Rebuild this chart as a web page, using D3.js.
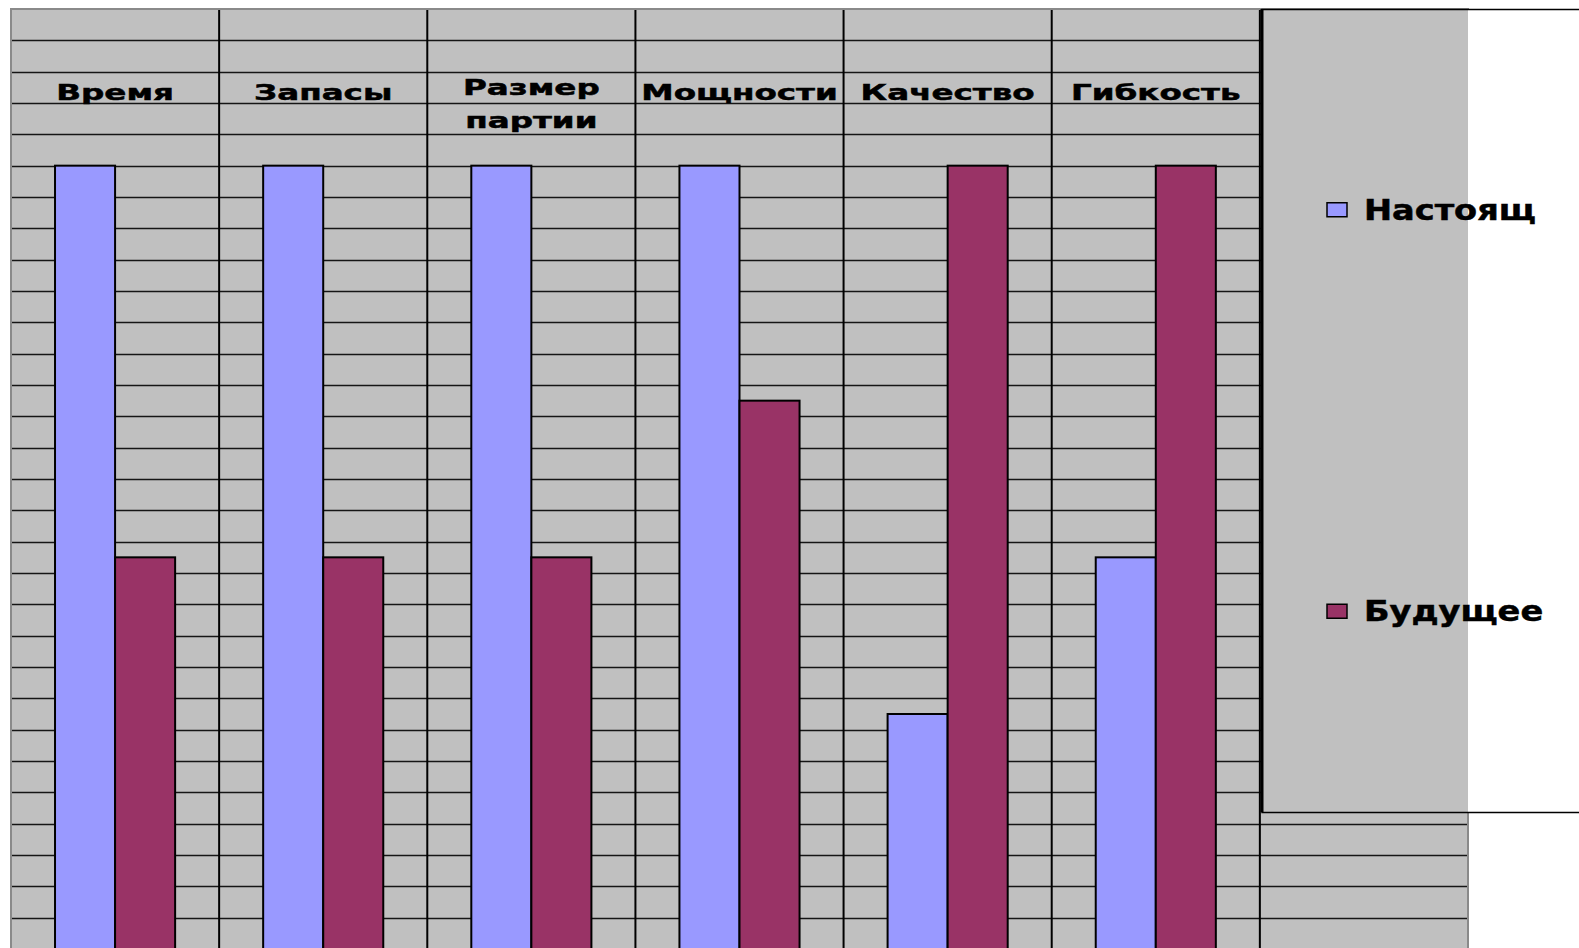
<!DOCTYPE html>
<html lang="ru">
<head>
  <meta charset="UTF-8">
  <title>Настоящее и будущее</title>
  <script src="https://d3js.org/d3.v7.min.js"></script>
  <style>
    body {
      margin: 0;
      background: #fff;
      overflow: hidden;
    }
    text {
      font-family: "DejaVu Sans", Verdana, sans-serif;
      font-weight: bold;
      fill: #000;
      stroke: #000;
      stroke-width: 0.5px;
    }
  </style>
</head>
<body>
  <div id="chart"></div>
  <script>
    // categories (the last one is empty, it sits under the legend)
    const categories = ["Время", "Запасы", "Размер партии", "Мощности", "Качество", "Гибкость", ""];
    const seriesNames = ["Настоящ", "Будущее"];
    const present = [10, 10, 10, 10, 3, 5, null];
    const future = [5, 5, 5, 7, 10, 10, null];
    const axisMax = 12;
    const gridStep = 0.4;

    const colors = ["#9999ff", "#993366"];

    const width = 1579;
    const height = 948;
    const plot = { left: 11, top: 9, right: 1468, bottom: 949 };
    const legendBox = { left: 1262, top: 9, right: 1590, bottom: 812 };

    const svg = d3.select("#chart")
      .append("svg")
      .attr("width", width)
      .attr("height", height);

    const x0 = d3.scaleBand()
      .domain(categories.map((c, i) => i))
      .range([plot.left, plot.right])
      .paddingInner(0)
      .paddingOuter(0);

    const x1 = d3.scaleBand()
      .domain(seriesNames)
      .range([0, x0.bandwidth()])
      .paddingInner(0)
      .paddingOuter(0.733);

    const y = d3.scaleLinear()
      .domain([0, axisMax])
      .range([plot.bottom, plot.top]);

    // plot area
    svg.append("rect")
      .attr("x", plot.left)
      .attr("y", plot.top)
      .attr("width", plot.right - plot.left)
      .attr("height", plot.bottom - plot.top)
      .attr("fill", "#c0c0c0");

    // horizontal gridlines
    const gridValues = d3.range(1, Math.round(axisMax / gridStep)).map(i => i * gridStep);
    svg.append("g")
      .selectAll("line")
      .data(gridValues)
      .join("line")
      .attr("x1", plot.left)
      .attr("x2", plot.right)
      .attr("y1", d => Math.round(y(d)) + 0.5)
      .attr("y2", d => Math.round(y(d)) + 0.5)
      .attr("stroke", "#151515")
      .attr("stroke-width", 1.3);

    // vertical category separators
    svg.append("g")
      .selectAll("line")
      .data(categories.slice(1).map((c, i) => i + 1))
      .join("line")
      .attr("x1", d => x0(d))
      .attr("x2", d => x0(d))
      .attr("y1", plot.top)
      .attr("y2", plot.bottom)
      .attr("stroke", "#000")
      .attr("stroke-width", 2);

    // plot border
    svg.append("path")
      .attr("d", `M${plot.left},${plot.bottom}V${plot.top}H${plot.right}V${plot.bottom}`)
      .attr("fill", "none")
      .attr("stroke", "#8a8a8a")
      .attr("stroke-width", 2);

    // bars
    const rows = categories.map((c, i) => ({ i, values: [present[i], future[i]] }));
    const groups = svg.append("g")
      .selectAll("g")
      .data(rows)
      .join("g")
      .attr("transform", d => `translate(${x0(d.i)},0)`);

    groups.selectAll("rect")
      .data(d => d.values.map((v, k) => ({ v, k })).filter(e => e.v != null))
      .join("rect")
      .attr("x", d => x1(seriesNames[d.k]))
      .attr("y", d => y(d.v))
      .attr("width", x1.bandwidth())
      .attr("height", d => y(0) - y(d.v))
      .attr("fill", d => colors[d.k])
      .attr("stroke", "#000")
      .attr("stroke-width", 2);

    // category labels on top
    const labels = svg.append("g")
      .selectAll("g")
      .data(categories.map((c, i) => ({ i, lines: c ? c.split(" ") : [] })))
      .join("g");

    labels.each(function(d) {
      const g = d3.select(this);
      const cx = x0(d.i) + x0.bandwidth() / 2;
      const first = 100 - (d.lines.length - 1) * 5;
      d.lines.forEach((line, j) => {
        g.append("text")
          .attr("transform", `translate(${cx},${first + j * 33}) scale(1.48,1)`)
          .attr("text-anchor", "middle")
          .attr("font-size", 22)
          .text(line);
      });
    });

    // legend
    const legend = svg.append("g");
    legend.append("rect")
      .attr("x", legendBox.left)
      .attr("y", legendBox.top)
      .attr("width", legendBox.right - legendBox.left)
      .attr("height", legendBox.bottom - legendBox.top)
      .attr("fill", "#fff");
    legend.append("rect")
      .attr("x", legendBox.left)
      .attr("y", legendBox.top)
      .attr("width", plot.right - legendBox.left)
      .attr("height", legendBox.bottom - legendBox.top)
      .attr("fill", "#c0c0c0");
    legend.append("line")
      .attr("x1", plot.right)
      .attr("x2", plot.right)
      .attr("y1", legendBox.bottom)
      .attr("y2", plot.bottom)
      .attr("stroke", "#8a8a8a")
      .attr("stroke-width", 2);
    legend.append("path")
      .attr("d", `M${legendBox.right},${legendBox.top + 0.5}H${legendBox.left}V${legendBox.bottom + 0.5}H${legendBox.right}`)
      .attr("fill", "none")
      .attr("stroke", "#000")
      .attr("stroke-width", 1.5);
    legend.append("line")
      .attr("x1", legendBox.left)
      .attr("x2", legendBox.left)
      .attr("y1", legendBox.top)
      .attr("y2", legendBox.bottom)
      .attr("stroke", "#000")
      .attr("stroke-width", 3);

    const legendY = d3.scalePoint()
      .domain(seriesNames)
      .range([legendBox.top, legendBox.bottom])
      .padding(0.5);

    const items = legend.selectAll("g.item")
      .data(seriesNames)
      .join("g")
      .attr("class", "item")
      .attr("transform", d => `translate(1327,${legendY(d)})`);

    items.append("rect")
      .attr("x", 0)
      .attr("y", -7)
      .attr("width", 20)
      .attr("height", 14)
      .attr("fill", (d, i) => colors[i])
      .attr("stroke", "#000")
      .attr("stroke-width", 1.5);

    items.append("text")
      .attr("transform", "translate(37,10) scale(1.2,1)")
      .attr("font-size", 28)
      .text(d => d);
  </script>
</body>
</html>
